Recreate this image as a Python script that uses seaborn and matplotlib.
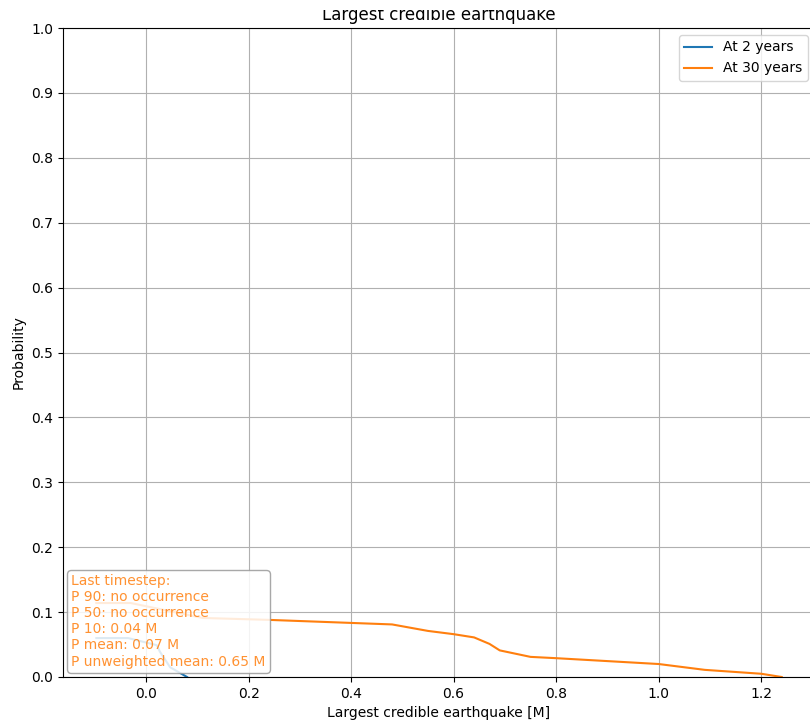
import matplotlib
matplotlib.use('Agg')
import matplotlib.pyplot as plt
from matplotlib.offsetbox import AnchoredText
from matplotlib.patches import Rectangle
import seaborn as sns
import pandas as pd


### values
mag_2y = [-0.097, -0.035, 0.021, 0.027, 0.047, 0.080]
prob_2y = [0.060, 0.060, 0.049, 0.039, 0.015, 0.0]

mag_30y = [-0.097, -0.03, 0.11, 0.24, 0.48, 0.55, 0.60, 0.64, 0.67, 0.69,
           0.75, 0.80, 1.00, 1.09, 1.20, 1.24]
prob_30y = [0.114, 0.114, 0.091, 0.088, 0.081, 0.071, 0.066, 0.061, 0.051, 0.041,
            0.031, 0.029, 0.020, 0.011, 0.005, 0.0]

series_names = ['At 2 years', 'At 30 years']
summary_lines = ['Last timestep:', 'P 90: no occurrence', 'P 50: no occurrence',
                 'P 10: 0.04 M', 'P mean: 0.07 M', 'P unweighted mean: 0.65 M']

# long format frame for seaborn
df = pd.concat([
    pd.DataFrame({'mag': mag_2y, 'prob': prob_2y, 'series': series_names[0]}),
    pd.DataFrame({'mag': mag_30y, 'prob': prob_30y, 'series': series_names[1]}),
], ignore_index=True)

W, H = 810, 725
fig = plt.figure(figsize=(W / 100, H / 100), dpi=100)
ax = fig.add_axes([63 / W, (H - 677) / H, (815 - 63) / W, (677 - 28) / H])

sns.lineplot(data=df, x='mag', y='prob', hue='series', palette=['C0', 'C1'],
             sort=False, estimator=None, linewidth=1.5, ax=ax)

ax.set_xlim(-0.162, 1.305)
ax.set_ylim(0, 1)
ax.set_yticks([i / 10 for i in range(11)])
ax.grid(True)
ax.set_axisbelow(True)
ax.set_title('Largest credible earthquake', fontsize=12)
ax.set_xlabel('Largest credible earthquake [M]')
ax.set_ylabel('Probability')
ax.legend(loc='upper right', title=None)

# summary box in lower left
at = AnchoredText('\n'.join(summary_lines), loc='lower left', pad=0.3, borderpad=0.3,
                  prop=dict(color='C1', fontsize=10, alpha=0.85))
at.patch.set_boxstyle('round,pad=0.,rounding_size=0.3')
at.patch.set_facecolor('white')
at.patch.set_edgecolor('0.6')
at.patch.set_alpha(0.85)
ax.add_artist(at)

# reference image has the very top of the title cut away
fig.patches.append(Rectangle((0, 1 - 10 / H), 1, 10 / H, transform=fig.transFigure,
                             facecolor='white', edgecolor='none', zorder=10))

fig.savefig('out.png', dpi=100)
